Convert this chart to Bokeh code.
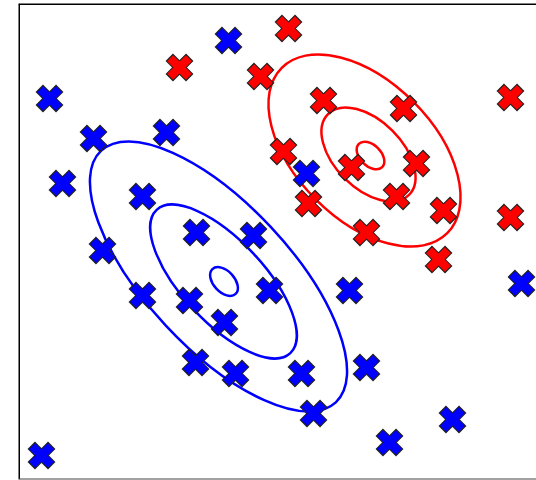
from bokeh.plotting import figure
from bokeh.models import Span
from bokeh.embed import file_html
from bokeh.resources import INLINE
import numpy as np

# Class A (blue) samples
blue_x = [0.62, 1.50, 2.96, 4.20, 0.88, 2.48, 3.56, 4.70, 5.76, 1.68, 2.48, 3.42,
          4.12, 3.54, 4.34, 0.46, 5.02, 6.62, 10.06, 5.66, 6.96, 5.90, 8.68, 7.42]
blue_y = [7.62, 6.82, 6.94, 8.78, 5.92, 5.66, 4.94, 4.88, 6.12, 4.58, 3.68, 3.58,
          3.14, 2.34, 2.12, 0.48, 3.78, 3.78, 3.92, 2.12, 2.24, 1.32, 1.20, 0.74]

# Class B (red) samples
red_x = [3.22, 4.84, 5.40, 6.10, 7.70, 9.84, 5.30, 5.80, 6.66, 7.96, 7.56, 8.50,
         6.96, 9.84, 8.40]
red_y = [8.24, 8.06, 9.02, 7.58, 7.42, 7.64, 6.56, 5.52, 6.24, 6.32, 5.66, 5.38,
         4.94, 5.24, 4.40]

# Density contour ellipses (centre, full axes, tilt in degrees)
blue_cx = [4.00, 4.10, 4.11]
blue_cy = [4.06, 3.96, 3.96]
blue_w = [6.88, 3.92, 0.68]
blue_h = [2.88, 1.64, 0.42]
blue_angle = -47

red_cx = [6.92, 7.00, 7.04]
red_cy = [6.58, 6.50, 6.48]
red_w = [4.68, 2.29, 0.66]
red_h = [2.76, 1.35, 0.42]
red_angle = -45

X_MAX = 10.36
Y_MAX = 9.52

p = figure(width=536, height=480, x_range=(0, X_MAX), y_range=(0, Y_MAX),
           output_backend="svg", toolbar_location=None,
           x_axis_type=None, y_axis_type=None,
           min_border_left=18, min_border_right=0, min_border_top=3, min_border_bottom=1)
p.grid.visible = False
p.outline_line_color = None
p.background_fill_color = "white"
p.border_fill_color = "white"

# frame edges: left, top, bottom
p.add_layout(Span(location=0, dimension="height", line_color="black", line_width=3))
p.add_layout(Span(location=Y_MAX, dimension="width", line_color="black", line_width=3))
p.add_layout(Span(location=0, dimension="width", line_color="#444444", line_width=2))

p.ellipse(x=blue_cx, y=blue_cy, width=blue_w, height=blue_h,
          angle=np.deg2rad(blue_angle), fill_color=None, line_color="blue", line_width=2.5)
p.ellipse(x=red_cx, y=red_cy, width=red_w, height=red_h,
          angle=np.deg2rad(red_angle), fill_color=None, line_color="red", line_width=2.5)

def filled_x(xs, ys, color):
    # outlined "X" marker: a dark stroke underneath a slightly thinner coloured stroke
    p.scatter(xs, ys, marker="x", size=29, line_width=10.5, line_color="#222222", line_cap="butt")
    p.scatter(xs, ys, marker="x", size=26.5, line_width=8.5, line_color=color, line_cap="butt")

filled_x(red_x, red_y, "red")
filled_x(blue_x, blue_y, "blue")

open("out.html", "w").write(file_html(p, INLINE))
